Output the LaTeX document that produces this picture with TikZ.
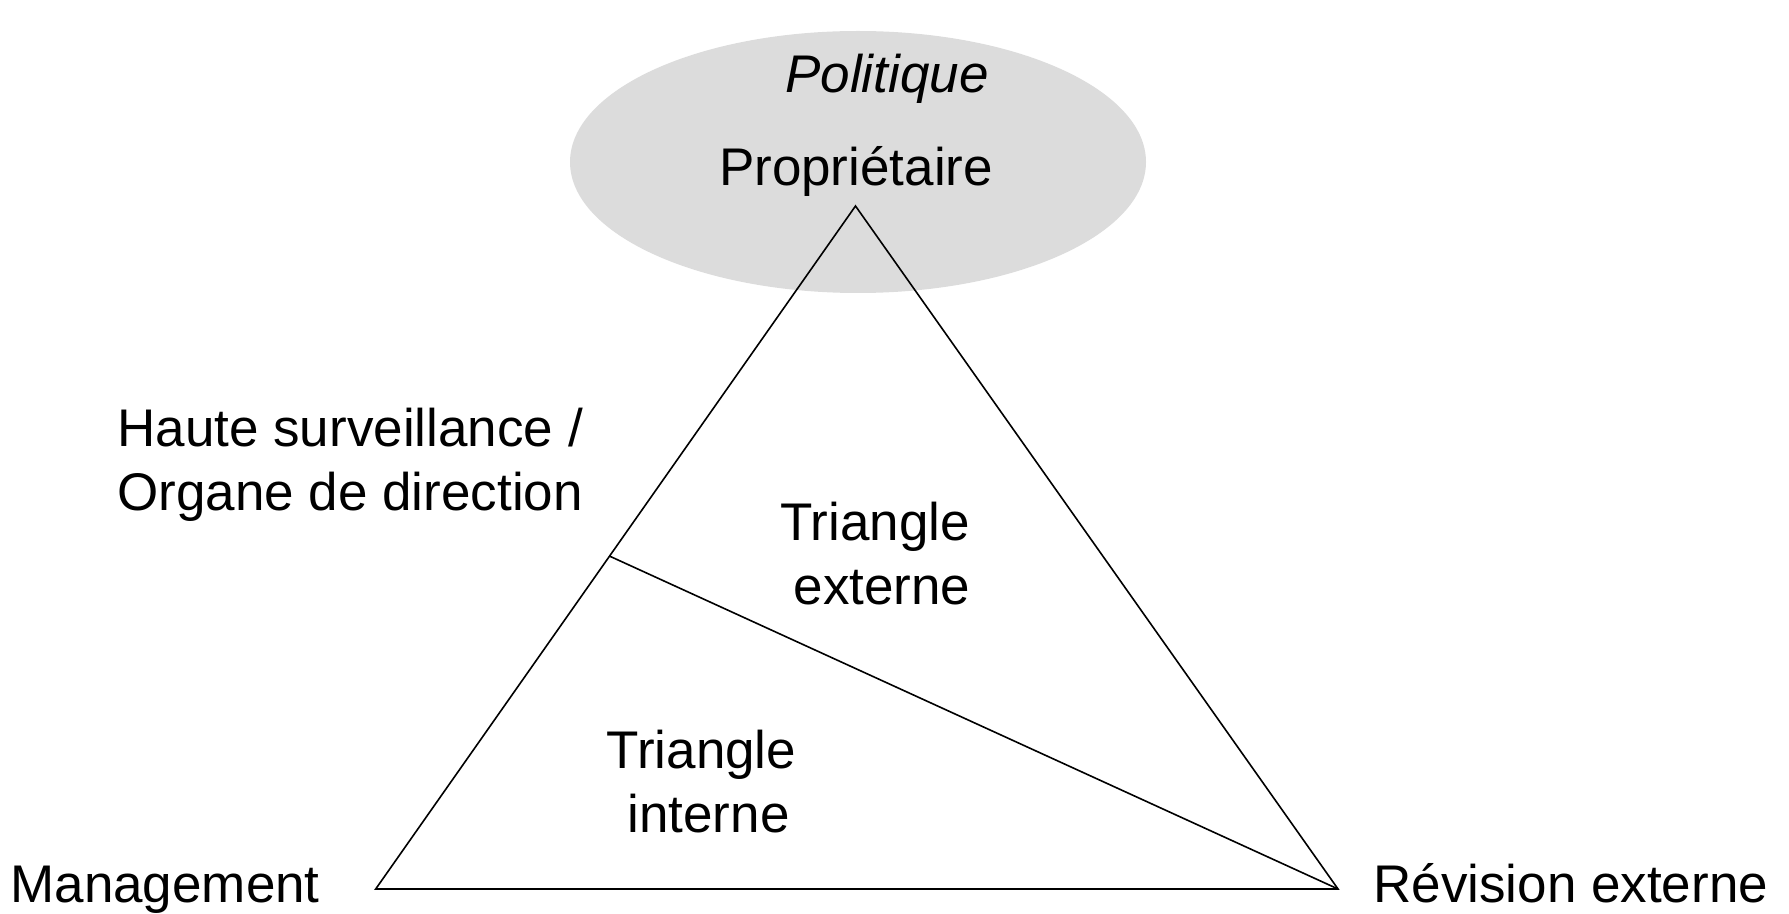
\documentclass[tikz,border=0pt]{standalone}
\usepackage{fontspec}
\setmainfont{Liberation Sans}
\usetikzlibrary{shapes.geometric, calc}
\definecolor{ovalgray}{RGB}{220,220,220}

\begin{document}
\begin{tikzpicture}[x=0.5pt, y=-0.5pt,
	txt/.style = {inner sep=0pt, font=\fontsize{26.5pt}{32pt}\selectfont},
	oval/.style = {ellipse, fill=ovalgray, inner sep=0pt, minimum width=288pt, minimum height=131pt},
	edge/.style = {draw, line width=0.8pt, line join=miter}]
	\useasboundingbox (0,0) rectangle (1789,914);
	\node[oval] (owner) at (858,162) {};
	\node[txt] (pol) at (887,78.5) {\itshape Politique};
	\node[txt] (prop) at (856,171) {Propriétaire};
	\coordinate (top) at (855.5,206);
	\coordinate (bl) at (375.7,889);
	\coordinate (br) at (1338,889);
	\coordinate (mid) at ($(top)!0.5126!(bl)$);
	\draw[edge] (top) -- (bl) -- (br) -- cycle;
	\draw[edge] (mid) -- (br);
	\node[txt, align=left, anchor=west] (board) at (117,465) {Haute surveillance /\\Organe de direction};
	\node[txt, align=center] (ext) at (875,554) {Triangle\\\hspace*{7pt}externe};
	\node[txt, align=center] (int) at (701.5,782) {Triangle\\\hspace*{7pt}interne};
	\node[txt, anchor=base west] (mgmt) at (10,902.8) {Management};
	\node[txt, anchor=base west] (rev) at (1373,902.8) {Révision externe};
\end{tikzpicture}
\end{document}
